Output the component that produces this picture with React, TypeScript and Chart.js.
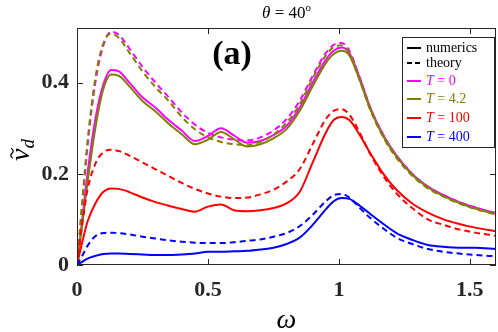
import React, { useEffect, useRef } from "react";
import { Chart, registerables } from "chart.js";
Chart.register(...registerables);

const omega = [0, 0.02, 0.04, 0.07, 0.10, 0.13, 0.16, 0.20, 0.25, 0.30, 0.35, 0.40, 0.45, 0.50, 0.55, 0.60, 0.65, 0.70, 0.75, 0.80, 0.85, 0.90, 0.95, 0.98, 1.01, 1.04, 1.08, 1.12, 1.17, 1.22, 1.28, 1.34, 1.40, 1.46, 1.52, 1.60];

const numT0 = [0, 0.10, 0.20, 0.32, 0.395, 0.428, 0.425, 0.40, 0.368, 0.345, 0.318, 0.295, 0.272, 0.283, 0.30, 0.284, 0.268, 0.272, 0.285, 0.305, 0.345, 0.40, 0.45, 0.47, 0.477, 0.465, 0.41, 0.345, 0.285, 0.24, 0.20, 0.172, 0.153, 0.138, 0.126, 0.113];
const thT0 = [0, 0.13, 0.26, 0.40, 0.48, 0.512, 0.505, 0.475, 0.435, 0.40, 0.368, 0.335, 0.308, 0.29, 0.28, 0.275, 0.273, 0.28, 0.295, 0.32, 0.36, 0.415, 0.465, 0.483, 0.487, 0.47, 0.41, 0.345, 0.285, 0.24, 0.20, 0.172, 0.153, 0.138, 0.126, 0.114];
const numT42 = [0, 0.09, 0.18, 0.30, 0.385, 0.418, 0.415, 0.392, 0.36, 0.337, 0.31, 0.287, 0.265, 0.275, 0.292, 0.276, 0.26, 0.265, 0.278, 0.298, 0.338, 0.392, 0.443, 0.463, 0.47, 0.46, 0.405, 0.342, 0.282, 0.238, 0.198, 0.17, 0.151, 0.136, 0.124, 0.112];
const thT42 = [0, 0.14, 0.27, 0.41, 0.485, 0.508, 0.498, 0.466, 0.425, 0.39, 0.36, 0.325, 0.298, 0.28, 0.27, 0.265, 0.263, 0.27, 0.286, 0.312, 0.352, 0.41, 0.46, 0.478, 0.482, 0.465, 0.405, 0.34, 0.28, 0.235, 0.196, 0.168, 0.15, 0.135, 0.123, 0.111];
const numT100 = [0, 0.05, 0.095, 0.135, 0.16, 0.168, 0.167, 0.16, 0.148, 0.138, 0.13, 0.123, 0.117, 0.128, 0.133, 0.12, 0.118, 0.12, 0.125, 0.135, 0.16, 0.225, 0.29, 0.318, 0.325, 0.318, 0.285, 0.245, 0.20, 0.165, 0.135, 0.115, 0.10, 0.09, 0.082, 0.074];
const thT100 = [0, 0.09, 0.165, 0.222, 0.247, 0.253, 0.25, 0.24, 0.225, 0.21, 0.195, 0.18, 0.167, 0.157, 0.15, 0.147, 0.148, 0.155, 0.165, 0.183, 0.21, 0.265, 0.32, 0.338, 0.342, 0.33, 0.29, 0.243, 0.195, 0.157, 0.125, 0.10, 0.088, 0.078, 0.071, 0.064];
const numT400 = [0, 0.007, 0.014, 0.02, 0.024, 0.025, 0.025, 0.024, 0.023, 0.022, 0.022, 0.023, 0.025, 0.029, 0.029, 0.03, 0.031, 0.034, 0.038, 0.046, 0.06, 0.088, 0.122, 0.14, 0.147, 0.145, 0.13, 0.112, 0.09, 0.07, 0.055, 0.044, 0.04, 0.038, 0.038, 0.035];
const thT400 = [0, 0.02, 0.042, 0.063, 0.07, 0.071, 0.07, 0.067, 0.062, 0.058, 0.054, 0.051, 0.049, 0.048, 0.048, 0.05, 0.053, 0.056, 0.062, 0.07, 0.085, 0.11, 0.14, 0.153, 0.156, 0.148, 0.125, 0.103, 0.08, 0.06, 0.046, 0.035, 0.029, 0.025, 0.022, 0.019];

const xTicks = [0, 0.5, 1, 1.5];
const yTicks = [0, 0.2, 0.4];
const tempLabels = ["0", "4.2", "100", "400"];
const colors = ["#ff00ff", "#808000", "#ff0000", "#0000ff"];

const AX = "#262626";
const SERIF = "'Liberation Serif', 'DejaVu Serif', serif";

type Run = { text: string; font: string; dy?: number };
function drawRuns(ctx: CanvasRenderingContext2D, runs: Run[], x: number, y: number, align: "left" | "center") {
  let total = 0;
  for (const r of runs) { ctx.font = r.font; total += ctx.measureText(r.text).width; }
  let cx = align === "center" ? x - total / 2 : x;
  for (const r of runs) {
    ctx.font = r.font;
    ctx.fillText(r.text, cx, y + (r.dy || 0));
    cx += ctx.measureText(r.text).width;
  }
}

const decorPlugin = {
  id: "decor",
  afterDatasetsDraw(chart: any) {
    const { ctx, chartArea: a, scales } = chart;
    const xs = scales.x, ys = scales.y;
    ctx.save();
    // box
    ctx.strokeStyle = AX;
    ctx.lineWidth = 1;
    ctx.strokeRect(a.left + 0.5, a.top + 0.5, a.right - a.left - 1, a.bottom - a.top - 1);
    // inner ticks
    ctx.beginPath();
    for (const v of xTicks) {
      const px = Math.round(xs.getPixelForValue(v)) + 0.5;
      ctx.moveTo(px, a.bottom); ctx.lineTo(px, a.bottom - 6);
      ctx.moveTo(px, a.top); ctx.lineTo(px, a.top + 6);
    }
    for (const v of yTicks) {
      const py = Math.round(ys.getPixelForValue(v)) + 0.5;
      ctx.moveTo(a.left, py); ctx.lineTo(a.left + 6, py);
      ctx.moveTo(a.right, py); ctx.lineTo(a.right - 6, py);
    }
    ctx.stroke();

    ctx.fillStyle = "#000";
    ctx.textBaseline = "alphabetic";
    // title
    drawRuns(ctx, [
      { text: "θ", font: `italic 17px ${SERIF}` },
      { text: " = 40", font: `17px ${SERIF}` },
      { text: "o", font: `11px ${SERIF}`, dy: -7 },
    ], (a.left + a.right) / 2, 18, "center");

    // panel label
    ctx.font = `bold 34px ${SERIF}`;
    ctx.textAlign = "center";
    ctx.fillText("(a)", 232, 64);
    ctx.textAlign = "left";

    // x axis title
    ctx.font = `italic 28px ${SERIF}`;
    ctx.textAlign = "center";
    ctx.fillText("ω", (a.left + a.right) / 2, 328);
    ctx.textAlign = "left";

    // y axis title
    ctx.save();
    ctx.translate(29, 150);
    ctx.rotate(-Math.PI / 2);
    ctx.font = `italic 28px ${SERIF}`;
    const vw = ctx.measureText("v").width;
    ctx.font = `italic 19px ${SERIF}`;
    const dw = ctx.measureText("d").width;
    const start = -(vw + dw) / 2;
    ctx.font = `italic 28px ${SERIF}`;
    ctx.fillText("v", start, 0);
    ctx.font = `italic 19px ${SERIF}`;
    ctx.fillText("d", start + vw, 5);
    // tilde
    ctx.beginPath();
    ctx.strokeStyle = "#000";
    ctx.lineWidth = 1.3;
    const tx = start + vw / 2 + 1.5, ty = -17;
    ctx.moveTo(tx - 5, ty + 1);
    ctx.bezierCurveTo(tx - 3, ty - 2.5, tx - 1, ty - 1, tx, ty);
    ctx.bezierCurveTo(tx + 1, ty + 1, tx + 3, ty + 2.5, tx + 5, ty - 1);
    ctx.stroke();
    ctx.restore();

    // legend
    const lx = 402, ly = 37, lw = 92, lh = 110;
    ctx.fillStyle = "#fff";
    ctx.fillRect(lx, ly, lw, lh);
    ctx.strokeStyle = AX;
    ctx.lineWidth = 1;
    ctx.strokeRect(lx + 0.5, ly + 0.5, lw, lh);
    const rows = [48, 63, 81, 99, 118, 137];
    const lineX0 = 407, lineX1 = 421, textX = 426;
    ctx.textBaseline = "middle";
    // numerics
    ctx.lineWidth = 2;
    ctx.strokeStyle = "#000";
    ctx.setLineDash([]);
    ctx.beginPath(); ctx.moveTo(lineX0, rows[0]); ctx.lineTo(lineX1, rows[0]); ctx.stroke();
    ctx.setLineDash([5, 3]);
    ctx.beginPath(); ctx.moveTo(lineX0, rows[1]); ctx.lineTo(lineX1 + 1, rows[1]); ctx.stroke();
    ctx.setLineDash([]);
    ctx.fillStyle = "#000";
    ctx.font = `14px ${SERIF}`;
    ctx.fillText("numerics", textX, rows[0]);
    ctx.fillText("theory", textX, rows[1]);
    for (let i = 0; i < 4; i++) {
      const y = rows[i + 2];
      ctx.strokeStyle = colors[i];
      ctx.beginPath(); ctx.moveTo(lineX0, y); ctx.lineTo(lineX1, y); ctx.stroke();
      ctx.fillStyle = colors[i];
      drawRuns(ctx, [
        { text: "T", font: `italic 14px ${SERIF}` },
        { text: " = " + tempLabels[i], font: `14px ${SERIF}` },
      ], textX, y, "left");
    }
    ctx.restore();
  },
};

export default function App() {
  const ref = useRef<HTMLCanvasElement>(null);
  useEffect(() => {
    document.body.style.margin = "0";
    const canvas = ref.current!;
    const pts = (vals: number[]) => omega.map((x, i) => ({ x, y: vals[i] }));
    const series = [
      { num: numT400, th: thT400, c: colors[3] },
      { num: numT100, th: thT100, c: colors[2] },
      { num: numT42, th: thT42, c: colors[1] },
      { num: numT0, th: thT0, c: colors[0] },
    ];
    const datasets: any[] = [];
    for (const s of series) {
      datasets.push({ data: pts(s.th), borderColor: s.c, borderWidth: 2, borderDash: [6, 4], pointRadius: 0, cubicInterpolationMode: "monotone", fill: false });
      datasets.push({ data: pts(s.num), borderColor: s.c, borderWidth: 2, pointRadius: 0, cubicInterpolationMode: "monotone", fill: false });
    }
    const chart = new Chart(canvas, {
      type: "line",
      data: { datasets },
      options: {
        responsive: false,
        animation: false,
        layout: { padding: { top: 28, right: 2, left: 0, bottom: 0 } },
        plugins: { legend: { display: false }, tooltip: { enabled: false }, title: { display: false } },
        scales: {
          x: {
            type: "linear",
            min: 0,
            max: 1.6,
            afterBuildTicks: (s: any) => { s.ticks = xTicks.map((v) => ({ value: v })); },
            afterFit: (s: any) => { s.height = 67; },
            grid: { display: false, drawTicks: false },
            border: { display: false },
            ticks: { padding: 12, color: AX, font: { family: SERIF, size: 22, weight: "bold" }, callback: (v: any) => String(v), maxRotation: 0 },
          },
          y: {
            type: "linear",
            min: 0,
            max: 0.52,
            afterBuildTicks: (s: any) => { s.ticks = yTicks.map((v) => ({ value: v })); },
            afterFit: (s: any) => { s.width = 77; },
            grid: { display: false, drawTicks: false },
            border: { display: false },
            ticks: { padding: 8, color: AX, font: { family: SERIF, size: 22, weight: "bold" }, callback: (v: any) => String(v) },
          },
        },
      },
      plugins: [decorPlugin],
    } as any);
    return () => chart.destroy();
  }, []);
  return (
    <div style={{ width: 498, height: 332 }}>
      <canvas ref={ref} width={498} height={332} style={{ display: "block" }} />
    </div>
  );
}
